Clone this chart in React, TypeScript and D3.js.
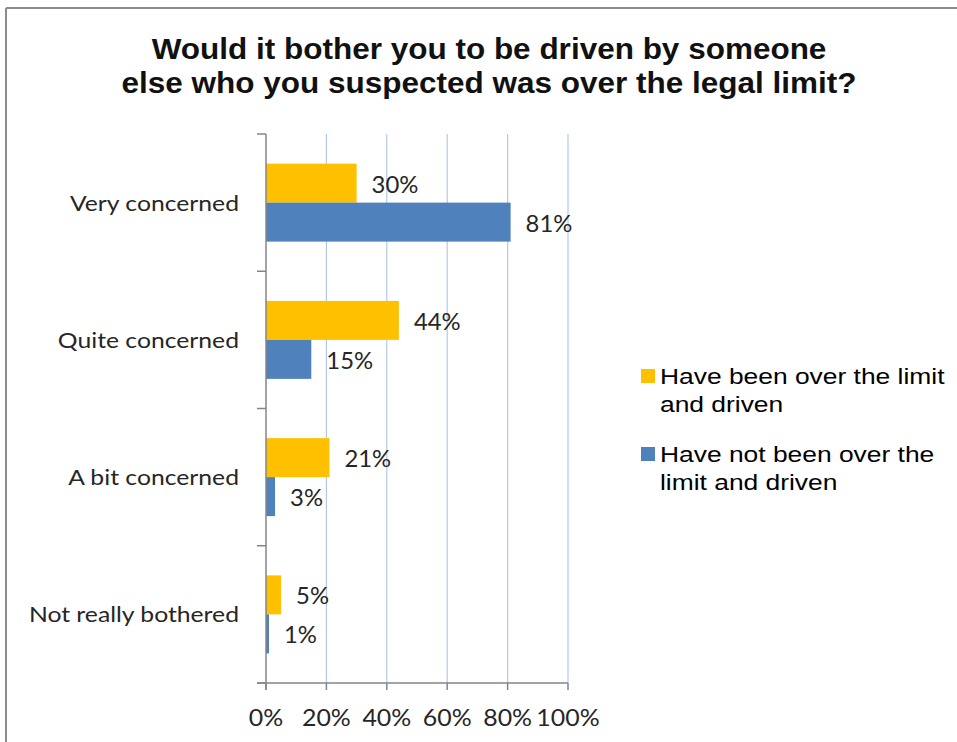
import React from "react";
import * as d3 from "d3";

const categories = ["Very concerned", "Quite concerned", "A bit concerned", "Not really bothered"];
const seriesNames = ["Have been over the limit and driven", "Have not been over the limit and driven"];
const overLimit = [30, 44, 21, 5];
const notOverLimit = [81, 15, 3, 1];
const xTicks = [0, 20, 40, 60, 80, 100];
const titleLines = ["Would it bother you to be driven by someone", "else who you suspected was over the legal limit?"];
const legendLines = [["Have been over the limit", "and driven"], ["Have not been over the", "limit and driven"]];

const W = 957;
const H = 742;
const colors = ["#FFC000", "#4F81BD"];
const series = [overLimit, notOverLimit];

export default function App() {
  const x = d3.scaleLinear().domain([0, 100]).range([266, 568]);
  const y = d3.scaleBand<string>().domain(categories).range([134, 683]).padding(0);
  const sub = d3
    .scaleBand<number>()
    .domain([0, 1])
    .range([0, y.bandwidth()])
    .paddingInner(0)
    .paddingOuter(0.76);

  const axisColor = "#868686";
  const gridColor = "#b3c9e6";
  const calibri = "Lato, 'Noto Sans', sans-serif";
  const arial = "'Liberation Sans', Arial, sans-serif";

  const catBoundaries = [...categories.map((c) => y(c) as number), 683];

  return (
    <svg width={W} height={H} style={{ position: "absolute", left: 0, top: 0, background: "#fff" }}>
      <rect x={0} y={0} width={W} height={H} fill="#fff" />
      {/* frame */}
      <line x1={6} y1={8} x2={W} y2={8} stroke="#8c8c8c" strokeWidth={2} />
      <line x1={6} y1={8} x2={6} y2={H} stroke="#8c8c8c" strokeWidth={2} />

      {/* title */}
      {titleLines.map((t, i) => (
        <text
          key={t}
          transform={`translate(489,${59 + i * 33.5}) scale(1.05,1)`}
          textAnchor="middle"
          fontFamily={arial}
          fontWeight="bold"
          fontSize={30}
          fill="#111"
        >
          {t}
        </text>
      ))}

      {/* gridlines */}
      {xTicks.slice(1).map((t) => (
        <line key={t} x1={x(t)} x2={x(t)} y1={134} y2={683} stroke={gridColor} strokeWidth={1.2} />
      ))}

      {/* bars */}
      {categories.map((c, ci) =>
        series.map((s, si) => (
          <rect
            key={c + si}
            x={x(0)}
            y={(y(c) as number) + (sub(si) as number)}
            width={x(s[ci]) - x(0)}
            height={sub.bandwidth()}
            fill={colors[si]}
          />
        ))
      )}

      {/* data labels */}
      {categories.map((c, ci) =>
        series.map((s, si) => (
          <text
            key={"l" + c + si}
            transform={`translate(${x(s[ci]) + 15},${(y(c) as number) + (sub(si) as number) + sub.bandwidth() / 2 + 9.5}) scale(1.06,1)`}
            fontFamily={calibri}
            fontSize={22.5}
            fill="#262626"
          >
            {s[ci]}%
          </text>
        ))
      )}

      {/* axes */}
      <line x1={266} x2={266} y1={134} y2={690} stroke={axisColor} strokeWidth={1.5} />
      <line x1={257} x2={568} y1={683} y2={683} stroke={axisColor} strokeWidth={1.5} />
      {catBoundaries.map((b, i) => (
        <line key={"ct" + i} x1={257} x2={266} y1={b} y2={b} stroke={axisColor} strokeWidth={1.5} />
      ))}
      {xTicks.map((t) => (
        <line key={"xt" + t} x1={x(t)} x2={x(t)} y1={683} y2={690} stroke={axisColor} strokeWidth={1.5} />
      ))}

      {/* x tick labels */}
      {xTicks.map((t) => (
        <text
          key={"xl" + t}
          transform={`translate(${x(t)},726) scale(1.06,1)`}
          textAnchor="middle"
          fontFamily={calibri}
          fontSize={23.5}
          fill="#262626"
        >
          {t}%
        </text>
      ))}

      {/* category labels */}
      {categories.map((c) => (
        <text
          key={"cl" + c}
          transform={`translate(239,${(y(c) as number) + y.bandwidth() / 2 + 8}) scale(1.15,1)`}
          textAnchor="end"
          fontFamily={calibri}
          fontSize={21.5}
          fill="#262626"
        >
          {c}
        </text>
      ))}

      {/* legend */}
      {seriesNames.map((n, si) => {
        const top = 369 + si * 78;
        return (
          <g key={n}>
            <rect x={641} y={top} width={14} height={14} fill={colors[si]} />
            {legendLines[si].map((ln, li) => (
              <text
                key={ln}
                transform={`translate(660,${top + 14.5 + li * 28.5}) scale(1.2,1)`}
                fontFamily={arial}
                fontSize={22}
                fill="#000"
              >
                {ln}
              </text>
            ))}
          </g>
        );
      })}
    </svg>
  );
}
